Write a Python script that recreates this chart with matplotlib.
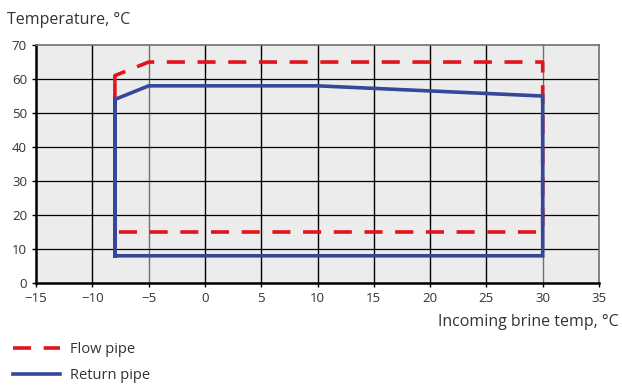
import matplotlib.pyplot as plt

plt.rcParams['font.family'] = ['Open Sans', 'DejaVu Sans']

# Operating envelope (brine temp in, temperature)
flow_x = [-8, -8, -5, 30, 30, -8, -8]
flow_y = [59, 61, 65, 65, 15, 15, 59]
return_x = [-8, -8, -5, 10, 30, 30, -8, -8]
return_y = [8, 54, 58, 58, 55, 8, 8, 54]

xticks = list(range(-15, 36, 5))
yticks = list(range(0, 71, 10))

red = '#e3131b'
blue = '#34479a'

fig = plt.figure(figsize=(6.22, 3.85), dpi=100)
ax = fig.add_axes([0.058, 0.265, 0.905, 0.618])
ax.set_facecolor('#ececec')

ax.plot(flow_x, flow_y, color=red, lw=2.6, linestyle=(0, (5, 3.5)),
        label='Flow pipe', zorder=3)
ax.plot(return_x, return_y, color=blue, lw=2.6, label='Return pipe',
        zorder=4, solid_joinstyle='miter')

ax.set_xlim(-15, 35)
ax.set_ylim(0, 70)
ax.set_xticks(xticks)
ax.set_yticks(yticks)

# grid
for x in xticks[1:-1]:
    c = '#707070' if x in (-5, 30) else 'black'
    ax.axvline(x, color=c, lw=1.0, zorder=1)
for y in yticks[1:-1]:
    ax.axhline(y, color='black', lw=0.9, zorder=1)

for s in ['top', 'right']:
    ax.spines[s].set_color('#707070')
    ax.spines[s].set_linewidth(1.2)
for s in ['left', 'bottom']:
    ax.spines[s].set_color('black')
    ax.spines[s].set_linewidth(1.8)

ax.tick_params(axis='both', labelsize=9.5, labelcolor='#333333',
               length=3, width=1, direction='out')

fig.text(0.012, 0.937, 'Temperature, °C', fontsize=11.5, color='#333333')
fig.text(0.995, 0.152, 'Incoming brine temp, °C', fontsize=11.5,
         color='#333333', ha='right')

fig.legend(loc='lower left', bbox_to_anchor=(0.0, -0.028), frameon=False,
           fontsize=10.5, handlelength=3.2, handletextpad=0.7,
           labelspacing=0.75, labelcolor='#333333')

fig.savefig('out.png', dpi=100)
